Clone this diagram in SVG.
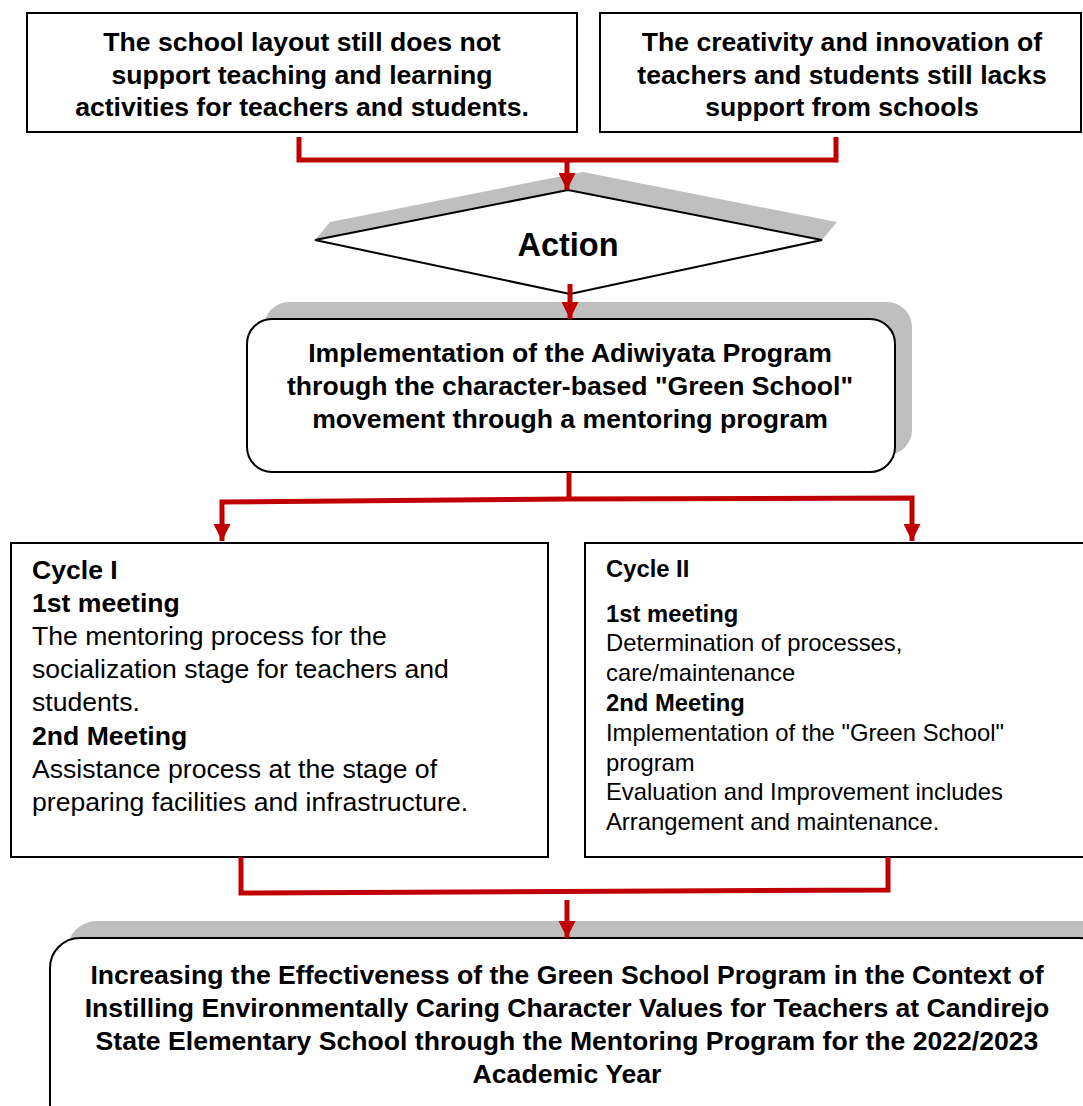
<svg xmlns="http://www.w3.org/2000/svg" width="1083" height="1106" viewBox="0 0 1083 1106">
<defs>
<style>
.box{fill:#fff;stroke:#000;stroke-width:2}
.shadow{fill:#BFBFBF;stroke:none}
.conn{fill:none;stroke:#C00000;stroke-width:5;stroke-linejoin:miter}
.arrow{fill:none;stroke:#C00000;stroke-width:5}
.t{font-family:"Liberation Sans",Arial,sans-serif;font-size:26.6px;fill:#000}
.s{font-size:23.8px}
.b{font-weight:bold}
.c{text-anchor:middle}
</style>
<marker id="ah" viewBox="0 0 10 10" refX="10" refY="5" markerWidth="3.6" markerHeight="3.4" orient="auto" markerUnits="strokeWidth">
<path d="M0,0 L10,5 L0,10 Z" fill="#C00000"/>
</marker>
</defs>
<rect width="1083" height="1106" fill="#fff"/>

<g id="problem1">
<rect class="box" x="27" y="13" width="550" height="119"/>
<text class="t b c" x="302" y="51">The school layout still does not</text>
<text class="t b c" x="302" y="84">support teaching and learning</text>
<text class="t b c" x="302" y="116">activities for teachers and students.</text>
</g>

<g id="problem2">
<rect class="box" x="600" y="13" width="481" height="119"/>
<text class="t b c" x="842" y="51">The creativity and innovation of</text>
<text class="t b c" x="842" y="84">teachers and students still lacks</text>
<text class="t b c" x="842" y="116">support from schools</text>
</g>

<g id="action">
<polygon class="shadow" points="330,222 583,172 837,222 822,240 568,190 315,240"/>
<polygon class="box" points="315,240 568,190 822,240 570,294"/>
<text class="t b c" x="568" y="256" style="font-size:32.5px">Action</text>
</g>

<g id="implementation">
<rect class="shadow" x="264" y="302" width="648" height="153" rx="25"/>
<rect class="box" x="247" y="319" width="648" height="153" rx="25"/>
<text class="t b c" x="570" y="362">Implementation of the Adiwiyata Program</text>
<text class="t b c" x="570" y="395">through the character-based "Green School"</text>
<text class="t b c" x="570" y="428">movement through a mentoring program</text>
</g>

<g id="cycle1">
<rect class="box" x="11" y="543" width="537" height="314"/>
<text class="t b" x="32" y="579">Cycle I</text>
<text class="t b" x="32" y="612">1st meeting</text>
<text class="t" x="32" y="645">The mentoring process for the</text>
<text class="t" x="32" y="678">socialization stage for teachers and</text>
<text class="t" x="32" y="711">students.</text>
<text class="t b" x="32" y="745">2nd Meeting</text>
<text class="t" x="32" y="778">Assistance process at the stage of</text>
<text class="t" x="32" y="811">preparing facilities and infrastructure.</text>
</g>

<g id="cycle2">
<rect class="box" x="585" y="543" width="510" height="314"/>
<text class="t s b" x="606" y="577">Cycle II</text>
<text class="t s b" x="606" y="622">1st meeting</text>
<text class="t s" x="606" y="651">Determination of processes,</text>
<text class="t s" x="606" y="681">care/maintenance</text>
<text class="t s b" x="606" y="711">2nd Meeting</text>
<text class="t s" x="606" y="741">Implementation of the "Green School"</text>
<text class="t s" x="606" y="771">program</text>
<text class="t s" x="606" y="800">Evaluation and Improvement includes</text>
<text class="t s" x="606" y="830">Arrangement and maintenance.</text>
</g>

<g id="result">
<rect class="shadow" x="67" y="921" width="1060" height="220" rx="30"/>
<rect class="box" x="50" y="938" width="1060" height="220" rx="30"/>
<text class="t b c" x="567" y="984">Increasing the Effectiveness of the Green School Program in the Context of</text>
<text class="t b c" x="567" y="1017">Instilling Environmentally Caring Character Values for Teachers at Candirejo</text>
<text class="t b c" x="567" y="1050">State Elementary School through the Mentoring Program for the 2022/2023</text>
<text class="t b c" x="567" y="1083">Academic Year</text>
</g>

<g id="connectors">
<path class="conn" d="M299,137 V160 H836 V137"/>
<path class="arrow" d="M567,160 V190" marker-end="url(#ah)"/>
<path class="arrow" d="M570,284 V319" marker-end="url(#ah)"/>
<path class="conn" d="M569,472 V498"/>
<path class="arrow" d="M569,499 L222,502 V541" marker-end="url(#ah)"/>
<path class="arrow" d="M569,499 L912,498 V541" marker-end="url(#ah)"/>
<path class="conn" d="M241,857 V893 L888,890 V857"/>
<path class="arrow" d="M567,900 V938" marker-end="url(#ah)"/>
</g>
</svg>
